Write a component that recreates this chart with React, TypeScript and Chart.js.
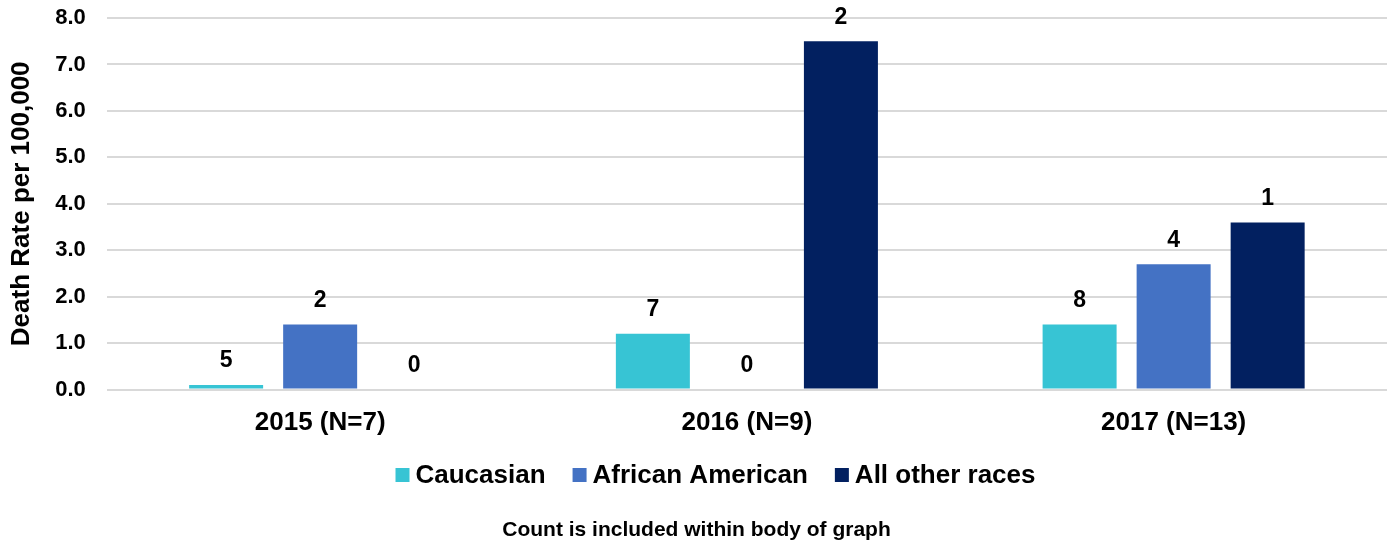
import React, { useEffect, useRef } from "react";
import { Chart, registerables } from "chart.js";

Chart.register(...registerables);

const categories = ["2015 (N=7)", "2016 (N=9)", "2017 (N=13)"];
const seriesNames = ["Caucasian", "African American", "All other races"];
const caucasianRates = [0.1, 1.2, 1.4];
const africanAmericanRates = [1.4, 0, 2.7];
const otherRaceRates = [0, 7.5, 3.6];
const caucasianCounts = [5, 7, 8];
const africanAmericanCounts = [2, 0, 4];
const otherRaceCounts = [0, 2, 1];
const seriesColors = ["#37C4D4", "#4472C4", "#022060"];
const footerText = "Count is included within body of graph";
const yAxisTitle = "Death Rate per 100,000";

const FONT = "'Liberation Sans', Arial, sans-serif";

const countLabelsPlugin = {
  id: "countLabels",
  afterDatasetsDraw(chart: any) {
    const ctx = chart.ctx;
    ctx.save();
    ctx.font = `bold 23px ${FONT}`;
    ctx.fillStyle = "#000";
    ctx.textAlign = "center";
    ctx.textBaseline = "middle";
    chart.data.datasets.forEach((ds: any, i: number) => {
      const meta = chart.getDatasetMeta(i);
      meta.data.forEach((el: any, j: number) => {
        ctx.fillText(String(ds.counts[j]), el.x, el.y - 24);
      });
    });
    ctx.restore();
  },
};

const customLegendPlugin = {
  id: "customLegend",
  afterDraw(chart: any) {
    const ctx = chart.ctx;
    ctx.save();
    ctx.font = `bold 26px ${FONT}`;
    ctx.textBaseline = "middle";
    ctx.textAlign = "left";
    const box = 14;
    const gapText = 6;
    const gapItem = 27;
    const items = chart.data.datasets.map((ds: any) => ({
      label: ds.label,
      color: ds.backgroundColor,
      w: ctx.measureText(ds.label).width,
    }));
    let total = 0;
    items.forEach((it: any, i: number) => {
      total += box + gapText + it.w + (i < items.length - 1 ? gapItem : 0);
    });
    const centerX = chart.width / 2 + 19;
    const cy = 475;
    let x = centerX - total / 2;
    items.forEach((it: any) => {
      ctx.fillStyle = it.color;
      ctx.fillRect(x, cy - box / 2, box, box);
      x += box + gapText;
      ctx.fillStyle = "#000";
      ctx.fillText(it.label, x, cy + 1);
      x += it.w + gapItem;
    });
    ctx.restore();
  },
};

export default function App() {
  const canvasRef = useRef<HTMLCanvasElement | null>(null);

  useEffect(() => {
    if (!canvasRef.current) return;
    const chart = new Chart(canvasRef.current, {
      type: "bar",
      data: {
        labels: categories,
        datasets: [
          {
            label: seriesNames[0],
            data: caucasianRates,
            counts: caucasianCounts,
            backgroundColor: seriesColors[0],
          } as any,
          {
            label: seriesNames[1],
            data: africanAmericanRates,
            counts: africanAmericanCounts,
            backgroundColor: seriesColors[1],
          } as any,
          {
            label: seriesNames[2],
            data: otherRaceRates,
            counts: otherRaceCounts,
            backgroundColor: seriesColors[2],
          } as any,
        ],
      },
      options: {
        animation: false,
        responsive: true,
        maintainAspectRatio: false,
        categoryPercentage: 0.661,
        barPercentage: 0.787,
        layout: { padding: { top: 18, right: 6, bottom: 2, left: 6 } },
        plugins: {
          legend: { display: false },
          tooltip: { enabled: false },
          title: {
            display: true,
            position: "bottom",
            text: footerText,
            color: "#000",
            font: { family: FONT, size: 21, weight: "bold" },
            padding: { top: 61, bottom: 0 },
          },
        },
        scales: {
          x: {
            grid: { display: false, drawTicks: false },
            border: { display: false },
            ticks: {
              color: "#000",
              font: { family: FONT, size: 26, weight: "bold" },
              padding: 18,
            },
          },
          y: {
            min: 0,
            max: 8,
            grid: {
              color: "#D9D9D9",
              lineWidth: 2,
              drawTicks: true,
              tickLength: 21,
              tickColor: "rgba(0,0,0,0)",
            },
            border: { display: false },
            ticks: {
              stepSize: 1,
              color: "#000",
              font: { family: FONT, size: 22, weight: "bold" },
              padding: 0,
              callback: (v: any) => Number(v).toFixed(1),
            },
            title: {
              display: true,
              text: yAxisTitle,
              color: "#000",
              font: { family: FONT, size: 26, weight: "bold" },
              padding: { top: 0, bottom: 18 },
            },
          },
        },
      },
      plugins: [countLabelsPlugin, customLegendPlugin],
    } as any);
    return () => chart.destroy();
  }, []);

  return (
    <div style={{ position: "absolute", left: 0, top: 0, width: 1393, height: 545, background: "#fff" }}>
      <canvas ref={canvasRef} />
    </div>
  );
}
